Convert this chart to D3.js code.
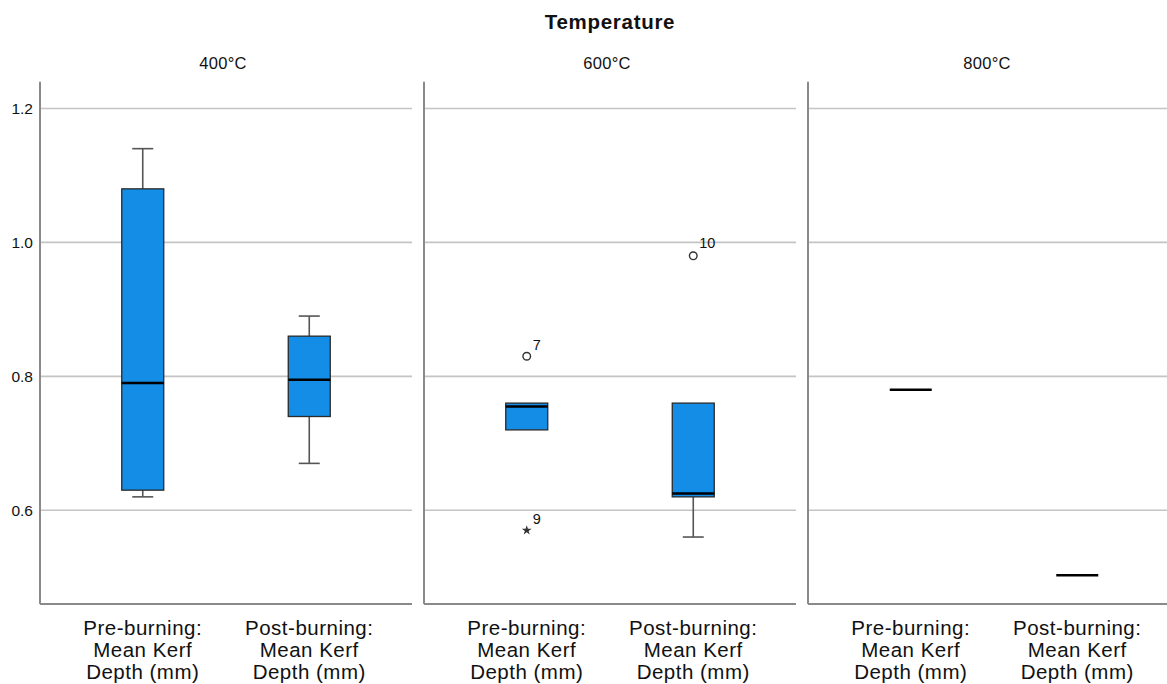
<!DOCTYPE html>
<html>
<head>
<meta charset="utf-8">
<script src="https://cdn.jsdelivr.net/npm/d3@7"></script>
<style>
  html, body { margin: 0; padding: 0; background: #fff; }
  text { font-family: "Liberation Sans", Arial, sans-serif; fill: #111; }
</style>
</head>
<body>
<svg id="chart" width="1167" height="684"></svg>
<script>
// ---- data ----
const title = "Temperature";
const temperatures = ["400°C", "600°C", "800°C"];
const categories = ["pre", "post"];
const categoryLabels = [
  ["Pre-burning:", "Mean Kerf", "Depth (mm)"],
  ["Post-burning:", "Mean Kerf", "Depth (mm)"]
];
const yTicks = [0.6, 0.8, 1.0, 1.2];
// one entry per box: temperature, category
const boxTemp     = ["400°C", "400°C", "600°C", "600°C", "800°C", "800°C"];
const boxCat      = ["pre",   "post",  "pre",   "post",  "pre",   "post"];
const whiskerLow  = [0.62,  0.67,  0.72,  0.56,  0.78,  0.503];
const q1          = [0.63,  0.74,  0.72,  0.62,  0.78,  0.503];
const median      = [0.79,  0.795, 0.755, 0.625, 0.78,  0.503];
const q3          = [1.08,  0.86,  0.76,  0.76,  0.78,  0.503];
const whiskerHigh = [1.14,  0.89,  0.76,  0.76,  0.78,  0.503];
// outliers
const outTemp  = ["600°C", "600°C", "600°C"];
const outCat   = ["pre",   "pre",   "post"];
const outValue = [0.83,    0.57,    0.98];
const outLabel = ["7",     "9",     "10"];
const outType  = ["circle", "star", "circle"];

// ---- layout ----
const svg = d3.select("#chart");
const plotTop = 81.7, plotBottom = 604;
const y = d3.scaleLinear().domain([0.46, 1.24]).range([plotBottom, plotTop]);
const panel = d3.scaleBand().domain(temperatures).range([40, 1180]).paddingInner(0.03125).paddingOuter(0);
const xIn = d3.scalePoint().domain(categories).range([0, panel.bandwidth()]).padding(0.617);
const boxW = 42, capW = 21;
const blue = "#138de6";

svg.append("defs").append("clipPath").attr("id", "clip")
  .append("rect").attr("x", 0).attr("y", 0).attr("width", 1167).attr("height", 684);

const root = svg.append("g").attr("clip-path", "url(#clip)");

svg.append("text").attr("x", 610).attr("y", 29).attr("text-anchor", "middle")
  .attr("font-size", 20.5).attr("font-weight", "bold").attr("letter-spacing", 0.7).text(title);

temperatures.forEach(t => {
  const g = root.append("g").attr("transform", `translate(${panel(t)},0)`);
  g.selectAll("line.grid").data(yTicks).join("line").attr("class", "grid")
    .attr("x1", 0).attr("x2", panel.bandwidth())
    .attr("y1", d => y(d)).attr("y2", d => y(d))
    .attr("stroke", "#c4c4c4").attr("stroke-width", 1.6);
  g.append("line").attr("x1", 0).attr("x2", 0).attr("y1", plotTop).attr("y2", plotBottom)
    .attr("stroke", "#8a8a8a").attr("stroke-width", 2);
  g.append("line").attr("x1", 0).attr("x2", panel.bandwidth()).attr("y1", plotBottom).attr("y2", plotBottom)
    .attr("stroke", "#8a8a8a").attr("stroke-width", 2);
  svg.append("text").attr("x", panel(t) + panel.bandwidth() / 2 - 3 + (t === "800°C" ? -4 : 0)).attr("y", 69)
    .attr("text-anchor", "middle").attr("font-size", 16.5).attr("letter-spacing", 0.3).text(t);
  categories.forEach((c, ci) => {
    const tx = svg.append("text").attr("text-anchor", "middle")
      .attr("font-size", 20.5).attr("letter-spacing", 0.5);
    categoryLabels[ci].forEach((line, li) => {
      tx.append("tspan").attr("x", panel(t) + xIn(c)).attr("y", 635 + li * 22).text(line);
    });
  });
});

const yAxis = d3.axisLeft(y).tickValues(yTicks).tickFormat(d3.format(".1f")).tickSize(0).tickPadding(7);
svg.append("g").attr("transform", `translate(40,0)`).call(yAxis)
  .call(g => g.select(".domain").remove())
  .call(g => g.selectAll("text").attr("font-size", 15.5).attr("fill", "#222")
        .attr("font-family", "Liberation Sans, Arial, sans-serif"));

boxTemp.forEach((t, i) => {
  const cx = panel(t) + xIn(boxCat[i]);
  const g = root.append("g");
  if (whiskerHigh[i] > q3[i]) {
    g.append("line").attr("x1", cx).attr("x2", cx).attr("y1", y(q3[i])).attr("y2", y(whiskerHigh[i]))
      .attr("stroke", "#555").attr("stroke-width", 1.6);
    g.append("line").attr("x1", cx - capW / 2).attr("x2", cx + capW / 2)
      .attr("y1", y(whiskerHigh[i])).attr("y2", y(whiskerHigh[i]))
      .attr("stroke", "#555").attr("stroke-width", 1.6);
  }
  if (whiskerLow[i] < q1[i]) {
    g.append("line").attr("x1", cx).attr("x2", cx).attr("y1", y(q1[i])).attr("y2", y(whiskerLow[i]))
      .attr("stroke", "#555").attr("stroke-width", 1.6);
    g.append("line").attr("x1", cx - capW / 2).attr("x2", cx + capW / 2)
      .attr("y1", y(whiskerLow[i])).attr("y2", y(whiskerLow[i]))
      .attr("stroke", "#555").attr("stroke-width", 1.6);
  }
  if (q3[i] > q1[i]) {
    g.append("rect").attr("x", cx - boxW / 2).attr("width", boxW)
      .attr("y", y(q3[i])).attr("height", y(q1[i]) - y(q3[i]))
      .attr("fill", blue).attr("stroke", "#2a2a2a").attr("stroke-width", 1.3);
  }
  g.append("line").attr("x1", cx - boxW / 2).attr("x2", cx + boxW / 2)
    .attr("y1", y(median[i])).attr("y2", y(median[i]))
    .attr("stroke", "#000").attr("stroke-width", 2.6);
});

outValue.forEach((v, i) => {
  const cx = panel(outTemp[i]) + xIn(outCat[i]);
  const cy = y(v);
  if (outType[i] === "circle") {
    root.append("circle").attr("cx", cx).attr("cy", cy).attr("r", 3.8)
      .attr("fill", "none").attr("stroke", "#333").attr("stroke-width", 1.4);
  } else {
    root.append("path").attr("transform", `translate(${cx},${cy})`)
      .attr("d", d3.symbol(d3.symbolStar, 30)()).attr("fill", "#333");
  }
  root.append("text").attr("x", cx + 6).attr("y", cy - (outLabel[i] === "10" ? 8 : 6))
    .attr("font-size", 14.5).attr("fill", "#222").text(outLabel[i]);
});
</script>
</body>
</html>
